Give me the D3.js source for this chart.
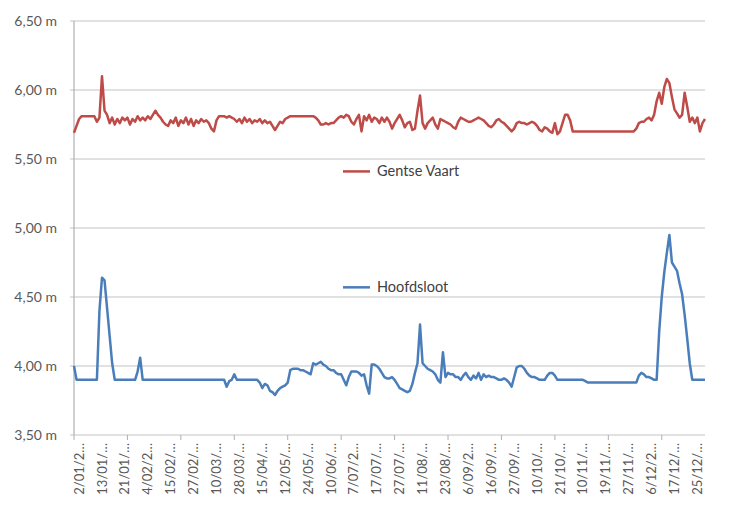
<!DOCTYPE html>
<html>
<head>
<meta charset="utf-8">
<script src="https://cdn.jsdelivr.net/npm/d3@7"></script>
<style>
    body { margin: 0; background: #fff; }
    svg { display: block; font-family: Lato, "Open Sans", sans-serif; }
</style>
</head>
<body>
<svg></svg>
<script>
// levels in m, one value per measurement
var gentseVaart = [
    5.69,5.74,5.79,5.81,5.81,5.81,5.81,5.81,5.81,5.77,
    5.80,6.10,5.85,5.82,5.76,5.80,5.75,5.79,5.76,5.80,
    5.78,5.80,5.75,5.79,5.77,5.81,5.78,5.80,5.78,5.81,
    5.79,5.82,5.85,5.82,5.80,5.77,5.75,5.74,5.78,5.76,
    5.80,5.74,5.78,5.76,5.80,5.75,5.79,5.74,5.78,5.76,
    5.79,5.77,5.78,5.76,5.72,5.70,5.78,5.81,5.81,5.81,
    5.80,5.81,5.80,5.79,5.77,5.79,5.76,5.80,5.77,5.79,
    5.76,5.78,5.77,5.79,5.76,5.78,5.76,5.77,5.74,5.71,
    5.74,5.77,5.76,5.79,5.80,5.81,5.81,5.81,5.81,5.81,
    5.81,5.81,5.81,5.81,5.81,5.80,5.78,5.75,5.75,5.76,
    5.75,5.76,5.76,5.78,5.80,5.81,5.80,5.82,5.81,5.77,
    5.75,5.79,5.82,5.70,5.81,5.78,5.82,5.77,5.80,5.79,
    5.76,5.80,5.77,5.80,5.77,5.72,5.76,5.79,5.82,5.78,
    5.73,5.76,5.77,5.71,5.72,5.85,5.96,5.76,5.72,5.76,
    5.78,5.80,5.75,5.72,5.79,5.78,5.77,5.76,5.75,5.73,
    5.72,5.77,5.80,5.79,5.78,5.77,5.77,5.78,5.79,5.80,
    5.79,5.78,5.76,5.74,5.73,5.75,5.78,5.79,5.77,5.76,
    5.74,5.72,5.70,5.72,5.76,5.77,5.76,5.76,5.75,5.76,
    5.77,5.76,5.74,5.71,5.70,5.73,5.72,5.70,5.69,5.76,
    5.68,5.70,5.76,5.82,5.82,5.78,5.70,5.70,5.70,5.70,
    5.70,5.70,5.70,5.70,5.70,5.70,5.70,5.70,5.70,5.70,
    5.70,5.70,5.70,5.70,5.70,5.70,5.70,5.70,5.70,5.70,
    5.70,5.72,5.76,5.77,5.77,5.79,5.80,5.78,5.82,5.92,
    5.98,5.90,6.02,6.08,6.05,5.95,5.86,5.83,5.80,5.82,
    5.98,5.88,5.77,5.80,5.76,5.80,5.70,5.76,5.79
];

var hoofdsloot = [
    4.00,3.90,3.90,3.90,3.90,3.90,3.90,3.90,3.90,3.90,
    4.40,4.64,4.62,4.42,4.22,4.02,3.90,3.90,3.90,3.90,
    3.90,3.90,3.90,3.90,3.90,3.96,4.06,3.90,3.90,3.90,
    3.90,3.90,3.90,3.90,3.90,3.90,3.90,3.90,3.90,3.90,
    3.90,3.90,3.90,3.90,3.90,3.90,3.90,3.90,3.90,3.90,
    3.90,3.90,3.90,3.90,3.90,3.90,3.90,3.90,3.90,3.90,
    3.85,3.89,3.90,3.94,3.90,3.90,3.90,3.90,3.90,3.90,
    3.90,3.90,3.90,3.88,3.84,3.87,3.86,3.82,3.81,3.79,
    3.82,3.84,3.85,3.86,3.88,3.97,3.98,3.98,3.98,3.97,
    3.97,3.96,3.95,3.94,4.02,4.01,4.02,4.03,4.01,4.00,
    3.98,3.97,3.97,3.95,3.94,3.94,3.90,3.86,3.92,3.96,
    3.96,3.96,3.95,3.93,3.94,3.86,3.80,4.01,4.01,4.00,
    3.98,3.95,3.92,3.91,3.91,3.92,3.90,3.87,3.84,3.83,
    3.82,3.81,3.82,3.87,3.95,4.02,4.30,4.02,4.00,3.98,
    3.97,3.96,3.94,3.90,3.88,4.10,3.92,3.95,3.94,3.94,
    3.92,3.92,3.90,3.93,3.95,3.92,3.90,3.93,3.91,3.95,
    3.90,3.94,3.92,3.93,3.92,3.92,3.91,3.90,3.90,3.91,
    3.90,3.88,3.85,3.92,3.99,4.00,4.00,3.98,3.95,3.93,
    3.92,3.92,3.91,3.90,3.90,3.90,3.93,3.95,3.95,3.93,
    3.90,3.90,3.90,3.90,3.90,3.90,3.90,3.90,3.90,3.90,
    3.90,3.89,3.88,3.88,3.88,3.88,3.88,3.88,3.88,3.88,
    3.88,3.88,3.88,3.88,3.88,3.88,3.88,3.88,3.88,3.88,
    3.88,3.88,3.93,3.95,3.94,3.92,3.92,3.91,3.90,3.90,
    4.25,4.50,4.68,4.82,4.95,4.75,4.72,4.69,4.60,4.52,
    4.37,4.20,4.02,3.90,3.90,3.90,3.90,3.90,3.90
];

// every 9th measurement carries a (truncated) date label
var dateLabels = [
    "2/01/2…", "13/01/…", "21/01/…", "4/02/2…", "15/02/…", "27/02/…", "10/03/…",
    "28/03/…", "15/04/…", "12/05/…", "24/05/…", "10/06/…", "7/07/2…", "17/07/…",
    "27/07/…", "11/08/…", "23/08/…", "6/09/2…", "16/09/…", "27/09/…", "10/10/…",
    "21/10/…", "10/11/…", "19/11/…", "27/11/…", "6/12/2…", "17/12/…", "25/12/…"
];
var labelEvery = 9;
var labelStart = 2;
var tickEvery = 21;

var yTicks = [3.5, 4.0, 4.5, 5.0, 5.5, 6.0, 6.5];

// legend keys are placed inside the plot, at these heights (in m)
var series = [
    { name: "Gentse Vaart", values: gentseVaart, color: "#be4b48", legendAt: 5.41 },
    { name: "Hoofdsloot", values: hoofdsloot, color: "#4a7ebb", legendAt: 4.57 }
];

var width = 748;
var height = 506;
var margin = { top: 21, right: 43, bottom: 71, left: 74 };
var n = gentseVaart.length;

var svg = d3.select("svg")
    .attr("width", width)
    .attr("height", height);

var x = d3.scaleLinear()
    .domain([0, n - 1])
    .range([margin.left, width - margin.right]);

var y = d3.scaleLinear()
    .domain([3.5, 6.5])
    .range([height - margin.bottom, margin.top]);

// gridlines + y labels
var grid = svg.append("g").attr("class", "grid");
grid.selectAll("line")
    .data(yTicks)
    .enter().append("line")
    .attr("x1", margin.left - 4)
    .attr("x2", width - margin.right)
    .attr("y1", function(d) { return y(d); })
    .attr("y2", function(d) { return y(d); })
    .attr("stroke", "#c4c4c4")
    .attr("stroke-width", 1.2);

svg.append("g")
    .selectAll("text")
    .data(yTicks)
    .enter().append("text")
    .attr("x", margin.left - 17)
    .attr("y", function(d) { return y(d); })
    .attr("dy", "0.35em")
    .attr("text-anchor", "end")
    .attr("font-size", 14)
    .attr("fill", "#595959")
    .text(function(d) { return d.toFixed(2).replace(".", ",") + " m"; });

svg.append("line")
    .attr("x1", margin.left)
    .attr("x2", margin.left)
    .attr("y1", y(6.5))
    .attr("y2", y(3.5))
    .attr("stroke", "#b0b0b0")
    .attr("stroke-width", 1.2);

// x axis tick marks + rotated labels
svg.append("g")
    .selectAll("line")
    .data(d3.range(0, n, tickEvery))
    .enter().append("line")
    .attr("x1", function(d) { return x(d); })
    .attr("x2", function(d) { return x(d); })
    .attr("y1", y(3.5))
    .attr("y2", y(3.5) + 5)
    .attr("stroke", "#b0b0b0");

svg.append("g")
    .selectAll("text")
    .data(dateLabels)
    .enter().append("text")
    .attr("transform", function(d, i) {
        return "translate(" + x(labelStart + i * labelEvery) + "," + (y(3.5) + 8) + ") rotate(-90)";
    })
    .attr("dy", "0.35em")
    .attr("text-anchor", "end")
    .attr("font-size", 13)
    .attr("fill", "#595959")
    .text(function(d) { return d; });

var line = d3.line()
    .x(function(d, i) { return x(i); })
    .y(function(d) { return y(d); });

svg.append("g")
    .selectAll("path")
    .data(series)
    .enter().append("path")
    .attr("d", function(d) { return line(d.values); })
    .attr("fill", "none")
    .attr("stroke", function(d) { return d.color; })
    .attr("stroke-width", 2.5)
    .attr("stroke-linejoin", "round");

var legend = svg.append("g")
    .selectAll("g")
    .data(series)
    .enter().append("g")
    .attr("transform", function(d) { return "translate(343," + y(d.legendAt) + ")"; });

legend.append("line")
    .attr("x1", 0)
    .attr("x2", 27)
    .attr("stroke", function(d) { return d.color; })
    .attr("stroke-width", 2.5);

legend.append("text")
    .attr("x", 34)
    .attr("dy", "0.35em")
    .attr("font-size", 14.5)
    .attr("fill", "#404040")
    .text(function(d) { return d.name; });
</script>
</body>
</html>
